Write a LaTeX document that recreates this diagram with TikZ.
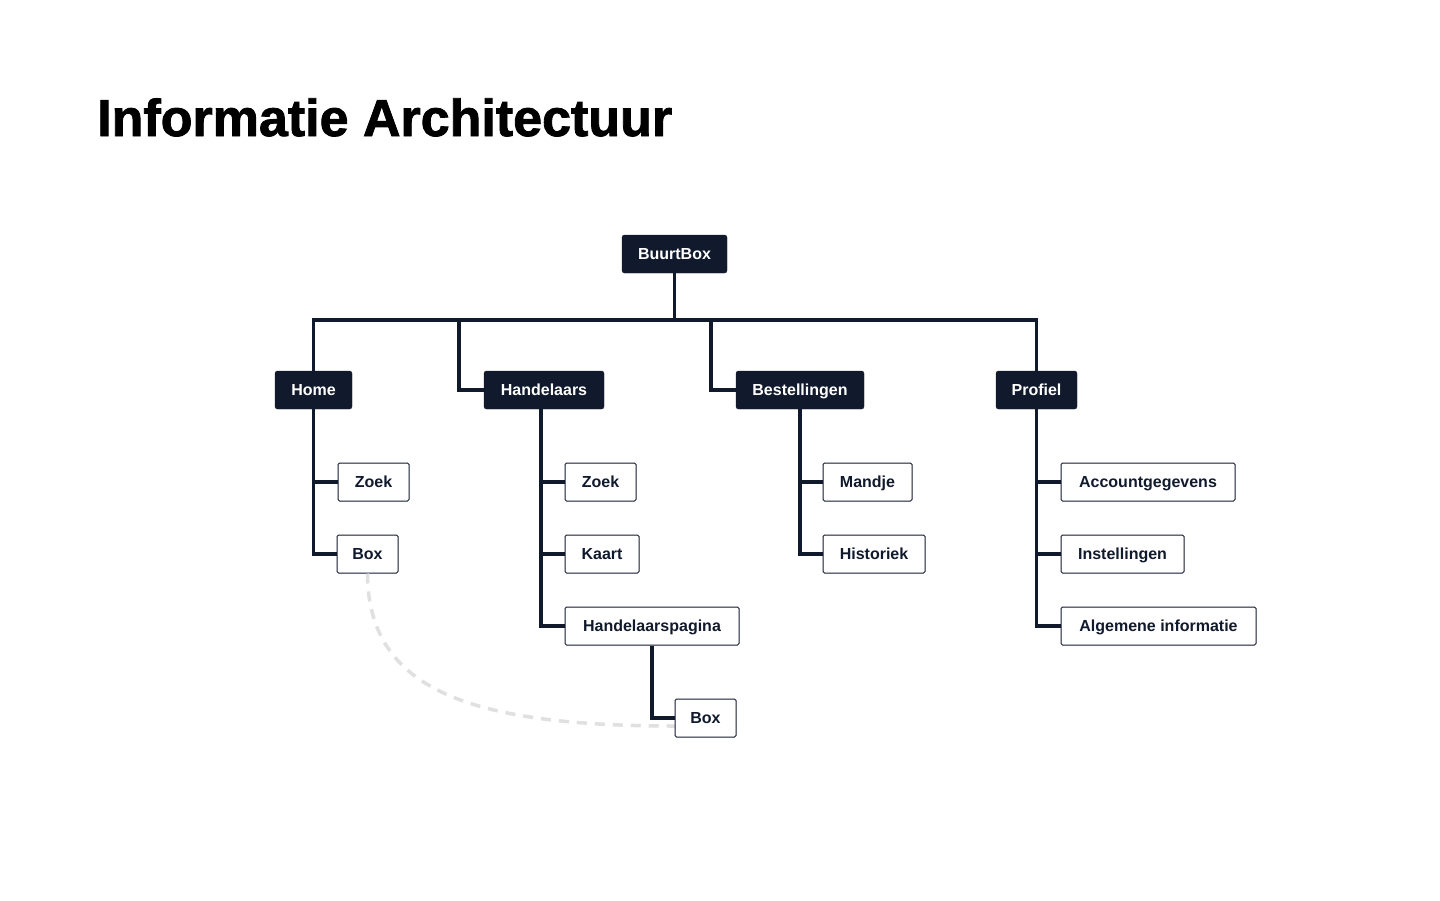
\documentclass[tikz,border=0pt]{standalone}
\usepackage{fontspec}
\setmainfont{Liberation Sans}
\newfontfamily\titlefont{Liberation Sans}[FakeBold=1.6]
\definecolor{ink}{HTML}{111A2C}
\definecolor{dashgray}{HTML}{E0E0E0}
\begin{document}
\begin{tikzpicture}[x=1pt,y=-1pt,
  dark/.style={fill=ink,draw=ink,rounded corners=2.5pt,text=white,font=\fontsize{16}{19}\selectfont\bfseries,minimum height=38pt,inner sep=0pt,text height=13pt,text depth=3pt},
  light/.style={fill=white,draw=ink,line width=1pt,rounded corners=1.5pt,text=ink,font=\fontsize{16}{19}\selectfont\bfseries,minimum height=38pt,inner sep=0pt,text height=13pt,text depth=3pt},
  conn/.style={draw=ink,line width=3.5pt},
  link/.style={draw=dashgray,line width=3.5pt,dash pattern=on 10pt off 8pt}]
\fill[white] (0,0) rectangle (1440,900);
\useasboundingbox (0,0) rectangle (1440,900);
\node[anchor=base west,inner sep=0pt,text=black,font=\fontsize{52}{60}\titlefont\bfseries] (title) at (97,136) {Informatie Architectuur};
% nodes
\node[dark,minimum width=105pt] (root) at (674.5,254) {BuurtBox};
\node[dark,minimum width=77pt] (home) at (313.5,390) {Home};
\node[dark,minimum width=120pt] (hand) at (544,390) {Handelaars};
\node[dark,minimum width=128pt] (best) at (800,390) {Bestellingen};
\node[dark,minimum width=81pt] (prof) at (1036.5,390) {Profiel};
% bus coordinates
\coordinate (bus) at (675,320);
\coordinate (hb) at (459,320);
\coordinate (bb) at (711,320);
\coordinate (hv) at (541,409);
% dashed link (behind)
\coordinate (b2in) at (675,726);
\node[light,minimum width=61pt] (hbox) at (367.5,554) {Box};
\draw[link] (hbox.south) .. controls (368,690) and (470,726) .. (b2in);
% top connectors
\draw[conn] (root.south) -- (root.south |- bus);
\draw[conn] (home.north) -- (home.north |- bus) -- (prof.north |- bus) -- (prof.north);
\draw[conn] (hb) |- (hand.west);
\draw[conn] (bb) |- (best.west);
% children
\node[light,minimum width=71pt] (hzoek) at (373.5,482) {Zoek};
\node[light,minimum width=71pt] (dzoek) at (600.5,482) {Zoek};
\node[light,minimum width=74pt] (kaart) at (602,554) {Kaart};
\node[light,minimum width=174pt] (hpag) at (652,626) {Handelaarspagina};
\node[light,minimum width=61pt] (box2) at (705.5,718) {Box};
\node[light,minimum width=89pt] (mandje) at (867.5,482) {Mandje};
\node[light,minimum width=102pt] (hist) at (874,554) {Historiek};
\node[light,minimum width=174pt] (acc) at (1148,482) {Accountgegevens};
\node[light,minimum width=123pt] (inst) at (1122.5,554) {Instellingen};
\node[light,minimum width=195pt] (alg) at (1158.5,626) {Algemene informatie};
% child connectors
\draw[conn] (home.south) |- (hzoek.west);
\draw[conn] (home.south) |- (hbox.west);
\draw[conn] (hv) |- (dzoek.west);
\draw[conn] (hv) |- (kaart.west);
\draw[conn] (hv) |- (hpag.west);
\draw[conn] (hpag.south) |- (box2.west);
\draw[conn] (best.south) |- (mandje.west);
\draw[conn] (best.south) |- (hist.west);
\draw[conn] (prof.south) |- (acc.west);
\draw[conn] (prof.south) |- (inst.west);
\draw[conn] (prof.south) |- (alg.west);
\end{tikzpicture}
\end{document}
